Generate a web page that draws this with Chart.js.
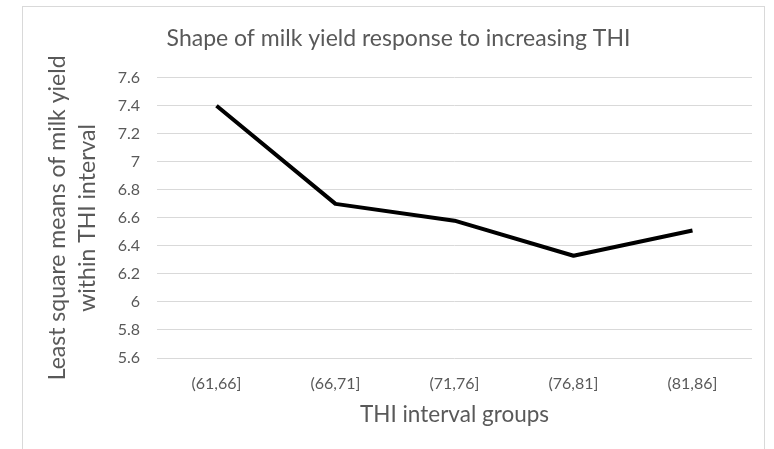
<!DOCTYPE html>
<html>
<head>
<meta charset="utf-8">
<title>Shape of milk yield response to increasing THI</title>
<script src="https://cdn.jsdelivr.net/npm/chart.js@4/dist/chart.umd.min.js"></script>
<style>
  html, body { margin: 0; padding: 0; background: #ffffff; overflow: hidden; }
  #frame {
    position: absolute; left: 22px; top: 6px; width: 743px; height: 470px;
    border: 1px solid #d9d9d9; box-sizing: border-box;
  }
  #chart { position: absolute; left: 0; top: 0; }
</style>
</head>
<body>
<div id="frame"></div>
<canvas id="chart" width="774" height="449"></canvas>
<script>
// THI interval groups and least square means of milk yield per group
const thiGroups = ['(61,66]', '(66,71]', '(71,76]', '(76,81]', '(81,86]'];
const milkYieldLSM = [7.40, 6.70, 6.58, 6.33, 6.51];

// y axis range and step
const yMin = 5.6;
const yMax = 7.6;
const yStep = 0.2;

const chartTitle = 'Shape of milk yield response to increasing THI';
const xTitle = 'THI interval groups';
const yTitle = ['Least square means of milk yield', 'within THI interval'];

const textColor = '#595959';
const gridColor = '#d9d9d9';
const family = 'Lato, "Open Sans", sans-serif';

new Chart(document.getElementById('chart'), {
  type: 'line',
  data: {
    labels: thiGroups,
    datasets: [{
      data: milkYieldLSM,
      borderColor: '#000000',
      backgroundColor: '#000000',
      borderWidth: 4,
      borderJoinStyle: 'round',
      pointRadius: 0,
      pointHoverRadius: 0,
      tension: 0,
      fill: false
    }]
  },
  options: {
    responsive: false,
    animation: false,
    devicePixelRatio: 1,
    layout: { padding: { left: 45, right: 22, top: 0, bottom: 0 } },
    plugins: {
      legend: { display: false },
      tooltip: { enabled: false },
      title: {
        display: true,
        text: chartTitle,
        color: textColor,
        font: { family: family, size: 23, weight: 'normal', lineHeight: 1.2 },
        padding: { top: 24.5, bottom: 25.7 }
      }
    },
    scales: {
      x: {
        offset: true,
        grid: { display: false, drawTicks: false },
        border: { display: false },
        ticks: {
          color: textColor,
          padding: 16,
          maxRotation: 0,
          font: { family: family, size: 16, lineHeight: 1.2 }
        },
        title: {
          display: true,
          text: xTitle,
          color: textColor,
          font: { family: family, size: 22.5, lineHeight: 1.2 },
          padding: { top: 0, bottom: 21 }
        },
        afterFit: (scale) => { scale.height = 91; }
      },
      y: {
        min: yMin,
        max: yMax,
        grid: { color: gridColor, lineWidth: 1, drawTicks: false },
        border: { display: false },
        ticks: {
          stepSize: yStep,
          color: textColor,
          padding: 17,
          font: { family: family, size: 16, lineHeight: 1.2 },
          callback: (value) => String(Number(value.toFixed(1)))
        },
        title: {
          display: true,
          text: yTitle,
          color: textColor,
          font: { family: family, size: 23, lineHeight: 30 / 23 },
          padding: { top: -2, bottom: 0 }
        },
        afterFit: (scale) => { scale.width = 112; }
      }
    }
  }
});
</script>
</body>
</html>
